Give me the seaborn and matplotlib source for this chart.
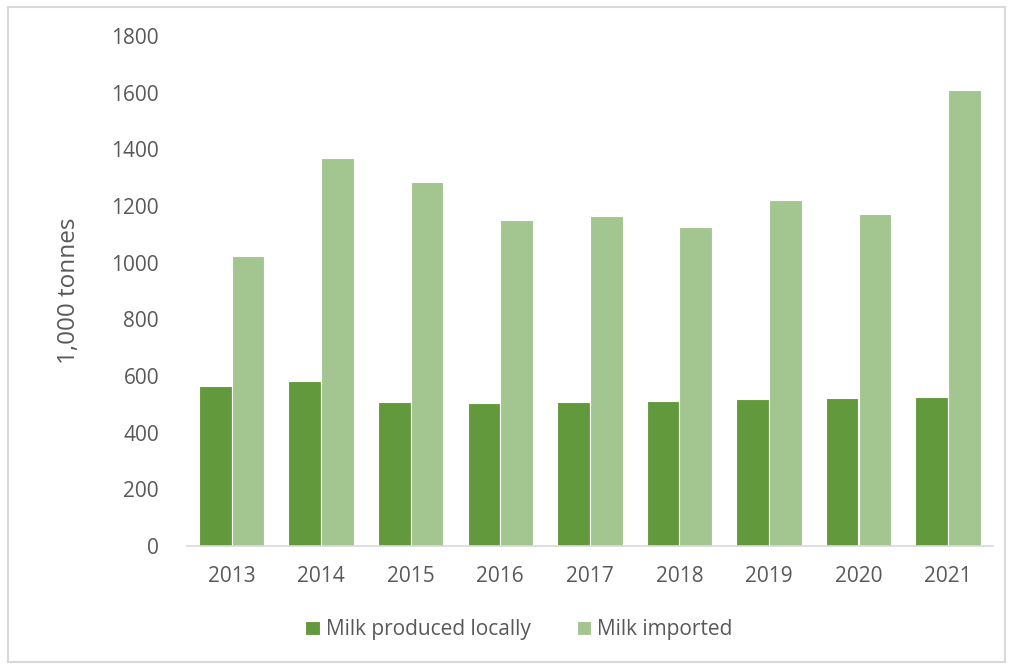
import matplotlib
matplotlib.use("Agg")
import matplotlib.pyplot as plt
import seaborn as sns
import pandas as pd
from matplotlib.patches import Rectangle

years = ["2013", "2014", "2015", "2016", "2017", "2018", "2019", "2020", "2021"]
local = [565, 582, 508, 505, 508, 512, 519, 522, 526]
imported = [1024, 1370, 1285, 1151, 1165, 1126, 1221, 1172, 1610]
series_names = ["Milk produced locally", "Milk imported"]
colors = ["#63993D", "#A3C58F"]
y_ticks = [0, 200, 400, 600, 800, 1000, 1200, 1400, 1600, 1800]

df = pd.DataFrame({
    "Year": years * 2,
    "Value": local + imported,
    "Series": [series_names[0]] * len(years) + [series_names[1]] * len(years),
})

sns.set_theme(style="white")
plt.rcParams["font.family"] = ["Open Sans", "DejaVu Sans"]
text_color = "#595959"

fig = plt.figure(figsize=(10.1, 6.66), dpi=100)
ax = fig.add_axes([0.185, 0.180, 0.798, 0.766])

sns.barplot(data=df, x="Year", y="Value", hue="Series", order=years,
            hue_order=series_names, palette=colors, saturation=1, width=0.73,
            gap=0, edgecolor="white", linewidth=0.8, ax=ax, legend=True)

ax.set_xlim(-0.5, len(years) - 0.5)
ax.set_ylim(0, 1800)
ax.set_yticks(y_ticks)
ax.set_yticklabels([str(t) for t in y_ticks])
ax.tick_params(axis="both", length=0, labelsize=15, labelcolor=text_color)
ax.tick_params(axis="x", pad=14)
ax.tick_params(axis="y", pad=20)
for side in ["top", "right", "left"]:
    ax.spines[side].set_visible(False)
ax.spines["bottom"].set_color("#D9D9D9")
ax.spines["bottom"].set_linewidth(1.2)
ax.set_xlabel("")
ax.set_ylabel("1,000 tonnes", fontsize=17.5, color=text_color, labelpad=22)

leg = ax.legend(loc="center", bbox_to_anchor=(0.412, -0.164),
                ncol=2, frameon=False, fontsize=15, handlelength=0.7,
                handleheight=0.7, handletextpad=0.3, columnspacing=2.2)
for t in leg.get_texts():
    t.set_color(text_color)

fig.patches.append(Rectangle((0.008, 0.006), 0.987, 0.984, transform=fig.transFigure,
                             fill=False, edgecolor="#D9D9D9", linewidth=1.5))

fig.savefig("out.png", dpi=100, facecolor="white")
